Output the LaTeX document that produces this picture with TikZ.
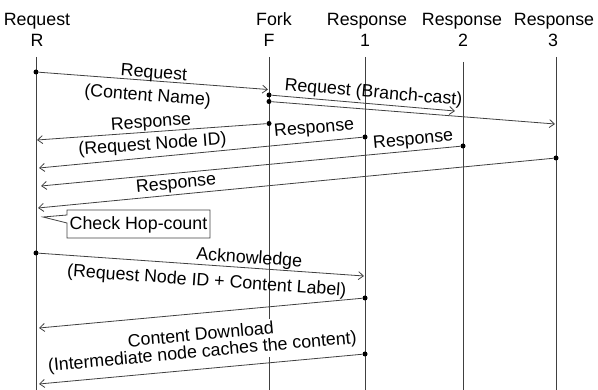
\documentclass[tikz,border=0pt]{standalone}
\usepackage{fontspec}
\setmainfont{Liberation Sans}
\usetikzlibrary{arrows.meta}

\begin{document}
\begin{tikzpicture}[x=1pt,y=-1pt,
  font=\fontsize{17.8}{21}\selectfont,
  lifeline/.style={draw=black!75,line width=0.8pt},
  msg/.style={draw=black!75,line width=0.8pt,-{Straight Barb[length=5pt,width=8pt]}},
  plain/.style={draw=black!75,line width=0.8pt},
  ev/.style={circle,fill=black,inner sep=0pt,minimum size=5pt},
  lab/.style={sloped,inner sep=2pt},
  head/.style={anchor=base}]
\useasboundingbox (0,0) rectangle (598,390);

% participant headings
\node[head] (hR1) at (37,26) {Request};
\node[head] (hR2) at (37,47) {R};
\node[head] (hF1) at (274,26) {Fork};
\node[head] (hF2) at (269,47) {F};
\node[head] (h11) at (367,26) {Response};
\node[head] (h12) at (365,47) {1};
\node[head] (h21) at (462,26) {Response};
\node[head] (h22) at (463,47) {2};
\node[head] (h31) at (554,26) {Response};
\node[head] (h32) at (553,47) {3};

% lifelines
\coordinate (Rt) at (36,57);  \coordinate (Rb) at (36,390);
\coordinate (Ft) at (269,57); \coordinate (Fb) at (269,390);
\coordinate (At) at (365,57); \coordinate (Ab) at (365,390);
\coordinate (Bt) at (463,62); \coordinate (Bb) at (463,390);
\coordinate (Ct) at (556,57); \coordinate (Cb) at (556,390);
\path[lifeline] (Rt) -- (Rb);
\path[lifeline] (Ft) -- (Fb);
\path[lifeline] (At) -- (Ab);
\path[lifeline] (Bt) -- (Bb);
\path[lifeline] (Ct) -- (Cb);

% event points
\node[ev] (r1) at (36,72) {};
\coordinate (f1) at (268,89.5);
\node[ev] (f2) at (269,95) {};
\node[ev] (f3) at (269,101.5) {};
\coordinate (b1) at (455,111);
\coordinate (c1) at (555,124);
\node[ev] (f4) at (269,123.5) {};
\coordinate (r2) at (37,140);
\node[ev] (a1) at (365,137) {};
\coordinate (r3) at (39,168);
\node[ev] (b2) at (463,146) {};
\coordinate (r4) at (41,186);
\node[ev] (c2) at (556,158) {};
\coordinate (r5) at (38,208);
\node[ev] (r6) at (36,253) {};
\coordinate (a2) at (364,276);
\node[ev] (a3) at (365,298) {};
\coordinate (r7) at (39,328);
\node[ev] (a4) at (365,354) {};
\coordinate (r8) at (39,384);

% request towards the fork
\path[msg] (r1) -- (f1)
  node[lab,pos=0.5,above=-3.5pt] {Request}
  node[lab,pos=0.48,below=5.5pt] {(Content Name)};

% branch-cast from the fork
\path[msg] (f2) -- (b1)
  node[lab,pos=0.55,above=0pt] {Request (Branch-cast)};
\path[msg] (f3) -- (c1);

% responses back to the requester
\path[msg] (f4) -- (r2)
  node[lab,pos=0.5,above=-1.5pt] {Response}
  node[lab,pos=0.5,below=2.5pt] {(Request Node ID)};
\path[msg] (a1) -- (r3)
  node[lab,pos=0.145,above=2.5pt] {Response};
\path[msg] (b2) -- (r4)
  node[lab,pos=0.11,above=0pt] {Response};
\path[msg] (c2) -- (r5)
  node[lab,pos=0.73,above=0pt] {Response};

% hop-count check callout
\coordinate (tip) at (43,217);
\path[plain] (67,210) -- (210,210) -- (210,238) -- (67,238) -- (67,223)
  -- (tip) -- (67,215) -- cycle;
\node[anchor=center,inner sep=0pt] (chk) at (138.5,224.5) {Check Hop-count};

% acknowledgement and download
\path[msg] (r6) -- (a2)
  node[lab,pos=0.645,above=-1.5pt] {Acknowledge}
  node[lab,pos=0.52,below=6pt] {(Request Node ID + Content Label)};
\path[msg] (a3) -- (r7);
\path[msg] (a4) -- (r8)
  node[lab,pos=0.49,above=26pt,fill=white,inner xsep=1pt] {Content Download}
  node[lab,pos=0.49,above=5.5pt,fill=white,inner xsep=1pt]
  {(Intermediate node caches the content)};
\end{tikzpicture}
\end{document}
